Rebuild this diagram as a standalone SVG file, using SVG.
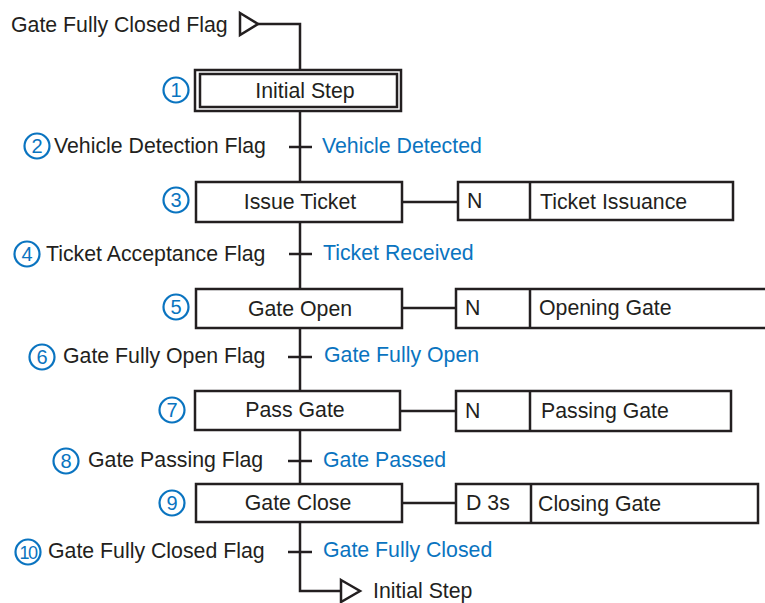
<svg xmlns="http://www.w3.org/2000/svg" width="765" height="603" viewBox="0 0 765 603">
<style>
text{font-family:"Liberation Sans",Arial,sans-serif;font-size:21.3px;fill:#231f20}
.b{fill:#0a74c0}
.n{fill:#0a74c0;font-size:20px;text-anchor:middle}
.c{fill:none;stroke:#0a74c0;stroke-width:2.2}
.box{fill:#fff;stroke:#231f20;stroke-width:2.5}
.ln{fill:none;stroke:#231f20;stroke-width:2.5}
.m{text-anchor:middle}
</style>
<rect width="765" height="603" fill="#fff"/>
<g id="connectors">
<polyline class="ln" points="258,24 300,24 300,70"/>
<line class="ln" x1="300" y1="111" x2="300" y2="182"/>
<line class="ln" x1="300" y1="222" x2="300" y2="289"/>
<line class="ln" x1="300" y1="328" x2="300" y2="391"/>
<line class="ln" x1="300" y1="430" x2="300" y2="484"/>
<polyline class="ln" points="300,522 300,591 340,591"/>
<line class="ln" x1="402" y1="202" x2="458" y2="202"/>
<line class="ln" x1="402" y1="308" x2="456" y2="308"/>
<line class="ln" x1="400" y1="411" x2="456" y2="411"/>
<line class="ln" x1="402" y1="503" x2="456" y2="503"/>
<line class="ln" x1="289" y1="147" x2="312" y2="147"/>
<line class="ln" x1="289" y1="254" x2="312" y2="254"/>
<line class="ln" x1="288" y1="357" x2="312" y2="357"/>
<line class="ln" x1="288" y1="461" x2="312" y2="461"/>
<line class="ln" x1="288" y1="552" x2="312" y2="552"/>
</g>
<g id="start">
<text x="11" y="32">Gate Fully Closed Flag</text>
<polygon class="box" points="240,13 258,24 240,35"/>
</g>
<g id="step1">
<rect class="box" x="195" y="70" width="206" height="41"/>
<rect class="box" x="200" y="74" width="197" height="33"/>
<text class="m" x="305" y="98">Initial Step</text>
<circle class="c" cx="176" cy="90" r="12.5"/><text class="n" x="176" y="97">1</text>
</g>
<g id="trans2">
<circle class="c" cx="37" cy="146" r="12.5"/><text class="n" x="37" y="153">2</text>
<text x="54" y="153">Vehicle Detection Flag</text>
<text class="b" x="322" y="153">Vehicle Detected</text>
</g>
<g id="step3">
<rect class="box" x="196" y="182" width="206" height="40"/>
<text class="m" x="300" y="209">Issue Ticket</text>
<circle class="c" cx="176" cy="200" r="12.5"/><text class="n" x="176" y="207">3</text>
<rect class="box" x="458" y="182" width="275" height="38"/>
<line class="ln" x1="530" y1="182" x2="530" y2="220"/>
<text x="467" y="208">N</text>
<text x="540" y="209">Ticket Issuance</text>
</g>
<g id="trans4">
<circle class="c" cx="27" cy="254" r="12.5"/><text class="n" x="27" y="261">4</text>
<text x="46" y="261">Ticket Acceptance Flag</text>
<text class="b" x="323" y="260">Ticket Received</text>
</g>
<g id="step5">
<rect class="box" x="196" y="289" width="206" height="39"/>
<text class="m" x="300" y="316">Gate Open</text>
<circle class="c" cx="176" cy="307" r="12.5"/><text class="n" x="176" y="314">5</text>
<rect class="box" x="456" y="289" width="312" height="39"/>
<line class="ln" x1="530" y1="289" x2="530" y2="328"/>
<text x="465" y="315">N</text>
<text x="539" y="315">Opening Gate</text>
</g>
<g id="trans6">
<circle class="c" cx="42" cy="357" r="12.5"/><text class="n" x="42" y="364">6</text>
<text x="63" y="363">Gate Fully Open Flag</text>
<text class="b" x="324" y="362">Gate Fully Open</text>
</g>
<g id="step7">
<rect class="box" x="195" y="391" width="205" height="39"/>
<text class="m" x="295" y="417">Pass Gate</text>
<circle class="c" cx="172" cy="410" r="12.5"/><text class="n" x="172" y="417">7</text>
<rect class="box" x="456" y="391" width="275" height="40"/>
<line class="ln" x1="530" y1="391" x2="530" y2="431"/>
<text x="465" y="418">N</text>
<text x="541" y="418">Passing Gate</text>
</g>
<g id="trans8">
<circle class="c" cx="66" cy="461" r="12.5"/><text class="n" x="66" y="468">8</text>
<text x="88" y="467">Gate Passing Flag</text>
<text class="b" x="323" y="467">Gate Passed</text>
</g>
<g id="step9">
<rect class="box" x="196" y="484" width="206" height="38"/>
<text class="m" x="298" y="510">Gate Close</text>
<circle class="c" cx="172" cy="503" r="12.5"/><text class="n" x="172" y="510">9</text>
<rect class="box" x="456" y="484" width="302" height="39"/>
<line class="ln" x1="531" y1="484" x2="531" y2="523"/>
<text x="466" y="510">D 3s</text>
<text x="538" y="511">Closing Gate</text>
</g>
<g id="trans10">
<circle class="c" cx="28" cy="552" r="12.5"/><text class="n" x="28" y="559" style="font-size:18px;letter-spacing:-1.5px">10</text>
<text x="48" y="558">Gate Fully Closed Flag</text>
<text class="b" x="323" y="557">Gate Fully Closed</text>
</g>
<g id="end">
<polygon class="box" points="341,580 360,591 341,602"/>
<text x="373" y="598">Initial Step</text>
</g>
</svg>
